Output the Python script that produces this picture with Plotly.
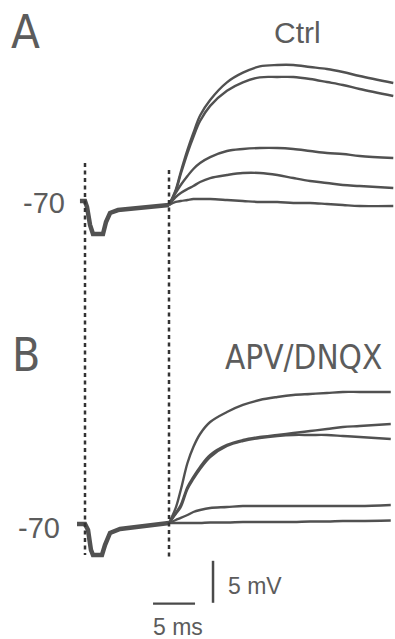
import plotly.graph_objects as go

# ---------------- data (time in ms, 0 = first stimulus; membrane potential in mV) -------------
stim_times = [0.0, 10.0]

pre_time_a = [-0.60, 0.00, 0.24, 0.60, 0.95, 2.14, 2.50, 2.98, 3.93, 6.19, 10.0]
pre_vm_a = [-69.52, -69.52, -70.24, -72.38, -73.45, -73.45, -72.02, -70.95, -70.60, -70.36, -70.0]

pre_time_b = [-0.95, 0.00, 0.36, 0.71, 0.95, 2.02, 2.38, 2.98, 4.17, 6.19, 10.0]
pre_vm_b = [-70.12, -70.12, -70.83, -73.21, -73.81, -73.81, -72.62, -71.19, -70.71, -70.48, -70.0]

resp_time_a = [10.0, 10.8, 11.4, 12.2, 12.9, 13.7, 14.9, 16.9, 18.8, 20.8, 22.9, 24.8, 26.8, 28.8, 30.7, 32.7, 36.7]
resp_time_b = [10.0, 10.8, 11.4, 12.2, 12.9, 13.7, 14.9, 16.9, 18.8, 20.8, 22.9, 24.8, 26.8, 28.8, 30.7, 32.7, 36.4]

ctrl_1 = [-70.0, -68.21, -66.07, -63.45, -61.43, -59.35, -57.50, -55.40, -54.25, -53.50, -53.33, -53.33, -53.57, -53.81, -54.17, -54.64, -55.48]
ctrl_2 = [-70.0, -68.33, -66.31, -63.81, -61.90, -60.00, -58.20, -56.40, -55.40, -54.80, -54.76, -54.76, -55.00, -55.36, -55.71, -56.19, -57.02]
ctrl_3 = [-70.0, -68.57, -67.62, -66.55, -65.71, -65.00, -64.29, -63.57, -63.33, -63.21, -63.21, -63.33, -63.57, -63.81, -63.93, -64.17, -64.40]
ctrl_4 = [-70.0, -69.05, -68.57, -68.10, -67.74, -67.26, -66.79, -66.43, -66.19, -66.19, -66.43, -66.79, -67.14, -67.38, -67.62, -67.74, -67.98]
ctrl_5 = [-70.0, -69.64, -69.52, -69.40, -69.29, -69.29, -69.29, -69.40, -69.52, -69.64, -69.64, -69.76, -69.76, -69.88, -70.00, -70.12, -70.12]

drug_1 = [-70.0, -68.21, -66.07, -62.86, -60.95, -59.40, -57.98, -56.79, -55.95, -55.36, -55.00, -54.76, -54.64, -54.52, -54.40, -54.40, -54.40]
drug_2 = [-70.0, -68.81, -67.86, -65.71, -64.52, -63.33, -61.90, -60.71, -60.12, -59.76, -59.52, -59.29, -59.05, -58.81, -58.57, -58.45, -58.21]
drug_3 = [-70.0, -68.93, -68.10, -65.95, -64.76, -63.57, -62.14, -60.83, -60.24, -59.88, -59.64, -59.52, -59.52, -59.52, -59.64, -59.76, -60.00]
drug_4 = [-70.0, -69.64, -69.40, -69.05, -68.69, -68.45, -68.21, -68.10, -67.98, -67.98, -67.98, -67.98, -67.98, -67.98, -67.98, -67.98, -67.86]
drug_5 = [-70.0, -70.0, -70.0, -70.0, -70.0, -70.0, -69.94, -69.94, -69.88, -69.88, -69.88, -69.88, -69.82, -69.82, -69.76, -69.76, -69.70]

ctrl_traces = [ctrl_1, ctrl_2, ctrl_3, ctrl_4, ctrl_5]
drug_traces = [drug_1, drug_2, drug_3, drug_4, drug_5]

baseline_label = "-70"
baseline_mv = -70.0
panel_titles = ["Ctrl", "APV/DNQX"]
panel_letters = ["A", "B"]
scale_ms = 5.0
scale_mv = 5.0
scale_labels = ["5 ms", "5 mV"]

# ---------------- layout geometry ----------------
W, H = 395, 639
PX_PER_UNIT = 8.4          # same pixel scale for 1 ms and 1 mV
X0_PX = 85                 # pixel column of t = 0
BASE_A_PX = 205            # pixel row of -70 mV in panel A
BASE_B_PX = 523            # pixel row of -70 mV in panel B

x_range = [-X0_PX / PX_PER_UNIT, (W - X0_PX) / PX_PER_UNIT]
ya_range = [baseline_mv - (H - BASE_A_PX) / PX_PER_UNIT, baseline_mv + BASE_A_PX / PX_PER_UNIT]
yb_range = [baseline_mv - (H - BASE_B_PX) / PX_PER_UNIT, baseline_mv + BASE_B_PX / PX_PER_UNIT]


def py(px):
    return 1 - px / H


def pxx(px):
    return px / W


TRACE_COLOR = "#515151"
TEXT_COLOR = "#5c5c5c"

fig = go.Figure()

# panel A
fig.add_trace(go.Scatter(x=pre_time_a, y=pre_vm_a, mode="lines", yaxis="y",
                         line=dict(color=TRACE_COLOR, width=4.5), hoverinfo="skip"))
for tr in ctrl_traces:
    fig.add_trace(go.Scatter(x=resp_time_a, y=tr, mode="lines", yaxis="y",
                             line=dict(color=TRACE_COLOR, width=2.4, shape="spline", smoothing=1.0),
                             hoverinfo="skip"))
# panel B
fig.add_trace(go.Scatter(x=pre_time_b, y=pre_vm_b, mode="lines", yaxis="y2",
                         line=dict(color=TRACE_COLOR, width=4.5), hoverinfo="skip"))
for tr in drug_traces:
    fig.add_trace(go.Scatter(x=resp_time_b, y=tr, mode="lines", yaxis="y2",
                             line=dict(color=TRACE_COLOR, width=2.4, shape="spline", smoothing=1.0),
                             hoverinfo="skip"))

# scale bars (panel B coordinates)
sb_t = 8.1
sb_v = -79.6
fig.add_trace(go.Scatter(x=[sb_t, sb_t + scale_ms], y=[sb_v, sb_v], mode="lines", yaxis="y2",
                         line=dict(color="#4a4a4a", width=2.3), hoverinfo="skip"))
sb_vt = 15.24
fig.add_trace(go.Scatter(x=[sb_vt, sb_vt], y=[sb_v + 0.1, sb_v + 0.1 + scale_mv], mode="lines", yaxis="y2",
                         line=dict(color="#4a4a4a", width=2.5), hoverinfo="skip"))

shapes = []
dash_extent = [(163, 555), (170, 560)]
for t, (top, bot) in zip(stim_times, dash_extent):
    shapes.append(dict(type="line", xref="x", yref="paper", x0=t, x1=t, y0=py(top), y1=py(bot),
                       line=dict(color="#333333", width=2.5, dash="4px,3.5px")))

narrow = "DejaVu Sans Condensed, Liberation Sans Narrow, Roboto, sans-serif"
regular = "Liberation Sans, Arial, sans-serif"

ann = []
ann.append(dict(text=panel_letters[0], x=pxx(25.5), y=py(31), xref="paper", yref="paper",
                showarrow=False, xanchor="center", yanchor="middle",
                font=dict(family=narrow, size=47, color=TEXT_COLOR)))
ann.append(dict(text=panel_letters[1], x=pxx(26), y=py(355), xref="paper", yref="paper",
                showarrow=False, xanchor="center", yanchor="middle",
                font=dict(family=narrow, size=46, color=TEXT_COLOR)))
ann.append(dict(text=panel_titles[0], x=pxx(297), y=py(32), xref="paper", yref="paper",
                showarrow=False, xanchor="center", yanchor="middle",
                font=dict(family=regular, size=30, color=TEXT_COLOR)))
ann.append(dict(text=panel_titles[1], x=pxx(303), y=py(357), xref="paper", yref="paper",
                showarrow=False, xanchor="center", yanchor="middle",
                font=dict(family=narrow, size=33, color=TEXT_COLOR)))
ann.append(dict(text=baseline_label, x=pxx(67), y=py(203), xref="paper", yref="paper",
                showarrow=False, xanchor="right", yanchor="middle",
                font=dict(family=regular, size=29, color=TEXT_COLOR)))
ann.append(dict(text=baseline_label, x=pxx(62), y=py(528), xref="paper", yref="paper",
                showarrow=False, xanchor="right", yanchor="middle",
                font=dict(family=regular, size=29, color=TEXT_COLOR)))
ann.append(dict(text=scale_labels[1], x=pxx(226), y=py(586), xref="paper", yref="paper",
                showarrow=False, xanchor="left", yanchor="middle",
                font=dict(family=regular, size=23, color=TEXT_COLOR)))
ann.append(dict(text=scale_labels[0], x=pxx(178), y=py(627), xref="paper", yref="paper",
                showarrow=False, xanchor="center", yanchor="middle",
                font=dict(family=regular, size=23, color=TEXT_COLOR)))

fig.update_layout(
    width=W, height=H,
    margin=dict(l=0, r=0, t=0, b=0, pad=0),
    paper_bgcolor="white", plot_bgcolor="white",
    showlegend=False,
    xaxis=dict(range=x_range, visible=False, fixedrange=True),
    yaxis=dict(range=ya_range, visible=False, fixedrange=True),
    yaxis2=dict(range=yb_range, visible=False, overlaying="y", anchor="x", fixedrange=True),
    shapes=shapes,
    annotations=ann,
)

fig.write_html("out.html", config={"displayModeBar": False})
